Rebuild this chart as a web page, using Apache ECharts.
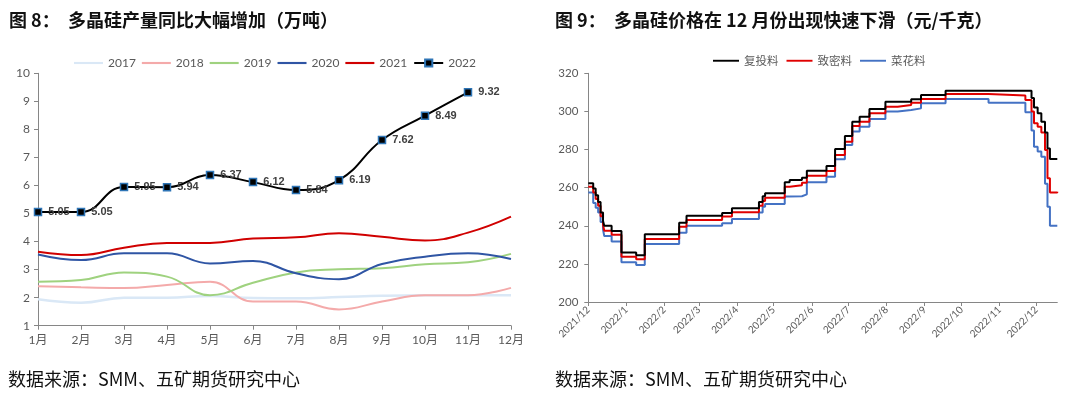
<!DOCTYPE html>
<html><head><meta charset="utf-8">
<script src="https://cdn.jsdelivr.net/npm/echarts@6/dist/echarts.min.js"></script>
<style>html,body{margin:0;padding:0;background:#fff}#c{width:1080px;height:393px}</style>
</head><body><div id="c"></div>
<script>
// ---- Chart 1: production (万吨) ----
const months = ['1月','2月','3月','4月','5月','6月','7月','8月','9月','10月','11月','12月'];
const y2017 = [1.94,1.82,2.00,2.00,2.06,1.99,1.98,2.02,2.07,2.09,2.09,2.09];
const y2018 = [2.41,2.37,2.34,2.45,2.57,1.86,1.86,1.58,1.86,2.09,2.09,2.35];
const y2019 = [2.57,2.63,2.90,2.75,2.09,2.53,2.90,3.01,3.05,3.19,3.26,3.56];
const y2020 = [3.54,3.34,3.58,3.58,3.22,3.31,2.87,2.66,3.20,3.46,3.58,3.38];
const y2021 = [3.64,3.52,3.78,3.95,3.95,4.11,4.15,4.30,4.17,4.04,4.32,4.89];
const y2022 = [5.05,5.05,5.95,5.94,6.37,6.12,5.84,6.19,7.62,8.49,9.32];
const yearNames = ['2017','2018','2019','2020','2021','2022'];

// ---- Chart 2: prices (元/千克) ----
const priceDates = ['2021-12-01','2021-12-05','2021-12-07','2021-12-09','2021-12-11','2021-12-13','2021-12-14','2021-12-20','2021-12-28','2022-01-09','2022-01-16','2022-02-13','2022-02-19','2022-03-20','2022-03-28','2022-04-19','2022-04-22','2022-04-24','2022-05-10','2022-05-14','2022-05-24','2022-05-28','2022-06-13','2022-06-20','2022-06-28','2022-07-04','2022-07-10','2022-07-18','2022-07-31','2022-08-10','2022-08-21','2022-08-29','2022-09-18','2022-10-23','2022-11-22','2022-11-27','2022-11-29','2022-12-02','2022-12-05','2022-12-08','2022-12-10','2022-12-12','2022-12-18'];
const fuTou  = [262.3,259.5,256,252.5,247,242.5,240,237.3,226,224.5,235.5,241.6,245.3,246.7,249.2,252.5,255.5,257,262.8,264,265.2,268.9,271.4,280.3,287.1,294.6,297.2,301.3,305.1,305.1,306.4,308.6,310.9,310.9,310.9,307,302,299,294.6,289,280.6,275,275];
const zhiMi  = [260.5,257.5,254,250.5,245,240.5,237.4,235.3,223.8,222.4,233.1,239.5,243,244.8,247.1,250.5,253,254.7,260.5,261.3,262.6,266.2,268.7,277.1,284.1,292.3,294.6,299,302.5,303.4,304.6,306.5,309.1,308.3,306,300,293.8,292,289,279.7,264.9,257.4,257.9];
const caiHua = [257.4,252,249.5,247,242,238,234.6,231.7,220.8,219.4,230.4,236.4,240,241.3,243.5,247,250,251.4,255.3,255.5,256.5,262.8,265.7,274.9,282.4,289.4,292,296,299.9,300.7,301.6,304.3,306.5,304.6,299.5,290,281.5,279,276.2,262,250,240,240];
const priceNames = ['复投料','致密料','菜花料'];
const monthTicks = ['2021-12-01','2022-01-01','2022-02-01','2022-03-01','2022-04-01','2022-05-01','2022-06-01','2022-07-01','2022-08-01','2022-09-01','2022-10-01','2022-11-01','2022-12-01'];
const dateMin = '2021-12-01';
const dateMax = '2022-12-18';

const ts = s => { const p = s.split('-').map(Number); return Date.UTC(p[0], p[1] - 1, p[2]); };
const fmtDate = v => { const d = new Date(v); return d.getUTCFullYear() + '/' + (d.getUTCMonth() + 1); };

const LAT = 'Lato, "Noto Sans CJK SC", sans-serif';
const CJK = '"Noto Sans CJK SC", sans-serif';
const axisGray = '#868686';
const labelGray = '#595959';
const LINE_ICON = 'path://M0,0H30V2.2H0Z';

const yearColors = ['#DAE8F6','#F4AAAA','#9FD27F','#2F55A4','#D00000','#000000'];
const yearData = [y2017,y2018,y2019,y2020,y2021,y2022];

const chart = echarts.init(document.getElementById('c'), null, {renderer:'canvas'});
const series = yearNames.map((n, i) => {
  const s = {
    name: n, type: 'line', xAxisIndex: 0, yAxisIndex: 0,
    data: yearData[i], smooth: 0.45, symbol: 'none',
    lineStyle: {color: yearColors[i], width: i === 0 ? 2.5 : 2},
    itemStyle: {color: yearColors[i]}, z: 2 + i
  };
  if (i === 5) {
    s.symbol = 'rect'; s.symbolSize = 7; s.showSymbol = true;
    s.itemStyle = {color: '#000', borderColor: '#2E75B6', borderWidth: 1.5};
    s.lineStyle = {color: '#000', width: 2};
    s.label = {show: true, position: 'right', distance: 6, fontFamily: 'Liberation Sans, sans-serif', fontWeight: 'bold', fontSize: 11, color: '#404040'};
  }
  return s;
});
const priceColors = ['#000000','#E00000','#4472C4'];
[fuTou, zhiMi, caiHua].forEach((v, i) => {
  series.push({
    name: priceNames[i], type: 'line', xAxisIndex: 1, yAxisIndex: 1,
    data: priceDates.map((d, j) => [ts(d), v[j]]), step: 'end', symbol: 'none',
    lineStyle: {color: priceColors[i], width: 2}, itemStyle: {color: priceColors[i]}, z: 5 - i
  });
});

chart.setOption({
  animation: false,
  backgroundColor: '#fff',
  graphic: [
    {type:'text', x: 9, y: 20, style:{text:'图 8：', fontSize: 18, fontWeight:'bold', fontFamily: CJK, fill:'#111', verticalAlign:'middle'}},
    {type:'text', x: 68, y: 20, style:{text:'多晶硅产量同比大幅增加（万吨）', fontSize: 18, fontWeight:'bold', fontFamily: CJK, fill:'#111', verticalAlign:'middle'}},
    {type:'text', x: 555, y: 20, style:{text:'图 9：', fontSize: 18, fontWeight:'bold', fontFamily: CJK, fill:'#111', verticalAlign:'middle'}},
    {type:'text', x: 614, y: 20, style:{text:'多晶硅价格在 12 月份出现快速下滑（元/千克）', fontSize: 18, fontWeight:'bold', fontFamily: CJK, fill:'#111', verticalAlign:'middle'}},
    {type:'text', x: 8, y: 379, style:{text:'数据来源：SMM、五矿期货研究中心', fontSize: 18, fontFamily: CJK, fill:'#111', verticalAlign:'middle'}},
    {type:'text', x: 555, y: 379, style:{text:'数据来源：SMM、五矿期货研究中心', fontSize: 18, fontFamily: CJK, fill:'#111', verticalAlign:'middle'}}
  ],
  legend: [
    {data: yearNames.map((n, i) => i < 5 ? {name: n, icon: LINE_ICON} : {name: n}),
     left: 74, top: 57, itemWidth: 29, itemHeight: 9, itemGap: 6, padding: 0,
     textStyle: {fontFamily: LAT, fontSize: 12, color: labelGray}},
    {data: priceNames.map(n => ({name: n, icon: LINE_ICON})),
     left: 713, top: 55, itemWidth: 26, itemHeight: 9, itemGap: 8, padding: 0,
     textStyle: {fontFamily: CJK, fontSize: 11.5, color: labelGray}}
  ],
  grid: [
    {left: 38, top: 73.3, width: 473, height: 252.4, containLabel: false},
    {left: 588.3, top: 73.3, width: 469, height: 228.7, containLabel: false}
  ],
  xAxis: [
    {type: 'category', gridIndex: 0, data: months, boundaryGap: false,
     axisLine: {lineStyle: {color: axisGray, width: 1}},
     axisTick: {show: true, length: 4, lineStyle: {color: axisGray}},
     axisLabel: {fontFamily: LAT, fontSize: 12, color: labelGray, margin: 8, interval: 0},
     splitLine: {show: false}},
    {type: 'value', gridIndex: 1, min: ts(dateMin), max: ts(dateMax), scale: true,
     axisLine: {onZero: false, lineStyle: {color: axisGray, width: 1}},
     axisTick: {show: true, length: 4, lineStyle: {color: axisGray}, customValues: monthTicks.map(ts)},
     axisLabel: {fontFamily: LAT, fontSize: 10, color: labelGray, rotate: 45, margin: 6, hideOverlap: false,
       customValues: monthTicks.map(ts), formatter: fmtDate},
     splitLine: {show: false}}
  ],
  yAxis: [
    {type: 'value', gridIndex: 0, min: 1, max: 10, interval: 1,
     axisLine: {show: true, lineStyle: {color: axisGray, width: 1}},
     axisTick: {show: true, length: 4, lineStyle: {color: axisGray}},
     axisLabel: {fontFamily: LAT, fontSize: 12, color: labelGray, margin: 8},
     splitLine: {show: false}},
    {type: 'value', gridIndex: 1, min: 200, max: 320, interval: 20,
     axisLine: {show: true, lineStyle: {color: axisGray, width: 1}},
     axisTick: {show: true, length: 4, lineStyle: {color: axisGray}},
     axisLabel: {fontFamily: LAT, fontSize: 11.5, color: labelGray, margin: 10},
     splitLine: {show: false}}
  ],
  series: series
});
</script></body></html>
